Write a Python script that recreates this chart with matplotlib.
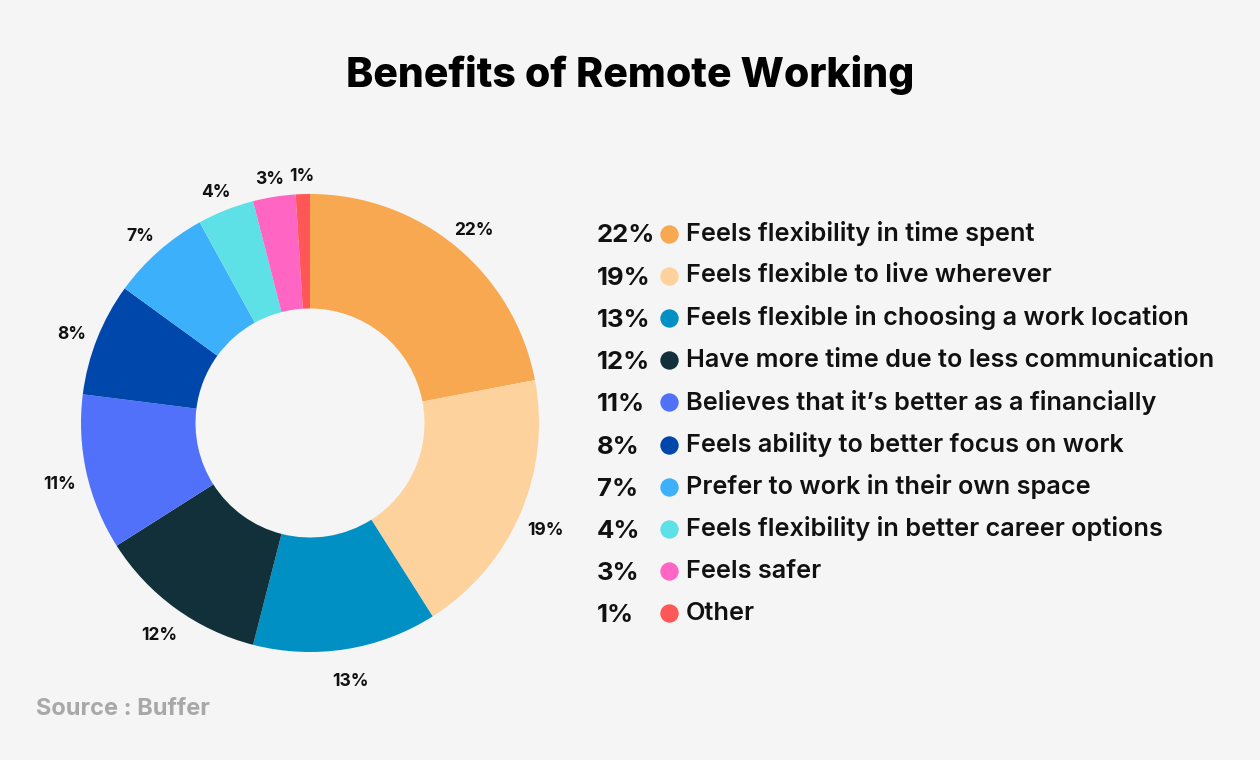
import matplotlib
matplotlib.use("Agg")
import matplotlib.pyplot as plt

categories = [
    "Feels flexibility in time spent",
    "Feels flexible to live wherever",
    "Feels flexible in choosing a work location",
    "Have more time due to less communication",
    "Believes that it\u2019s better as a financially",
    "Feels ability to better focus on work",
    "Prefer to work in their own space",
    "Feels flexibility in better career options",
    "Feels safer",
    "Other",
]
values = [22, 19, 13, 12, 11, 8, 7, 4, 3, 1]
colors = ["#F7A851", "#FDD29C", "#0090C4", "#12303A", "#5271FB",
          "#0047AB", "#3DB0FC", "#5EE1E6", "#FF66C4", "#FF5757"]

W, H = 1260, 760
BG = "#F5F5F5"
plt.rcParams['font.family'] = ['Inter', 'DejaVu Sans']

fig = plt.figure(figsize=(W / 100, H / 100), dpi=100, facecolor=BG)

cx, cy, R = 310, 423, 229
ax = fig.add_axes([(cx - R) / W, (H - cy - R) / H, 2 * R / W, 2 * R / H])
ax.set_facecolor(BG)
wedges, texts = ax.pie(values, colors=colors, startangle=90, counterclock=False,
                       radius=1.0, labels=[f"{v}%" for v in values],
                       labeldistance=1.12,
                       wedgeprops=dict(width=0.5, linewidth=0),
                       textprops=dict(fontsize=12.5, fontweight='bold', color='#111111'))
for t in texts:
    t.set_ha('center')
    t.set_va('center')
    x, y = t.get_position()
    # small downward nudge, stronger near the top of the ring
    t.set_position((x, y - 0.024 - 0.02 * max(0.0, y - 0.9) / 0.22))
ax.set_xlim(-1, 1)
ax.set_ylim(-1, 1)
ax.set_aspect('equal')
ax.axis('off')

fig.text(630 / W, 1 - 75 / H, "Benefits of Remote Working", ha='center', va='center',
         fontsize=29.5, fontweight='heavy', color='#000000')
fig.text(36 / W, 1 - 709 / H, "Source : Buffer", ha='left', va='center',
         fontsize=17, fontweight='bold', color='#A8A8A8')

# legend overlay
lax = fig.add_axes([0, 0, 1, 1], facecolor='none')
lax.set_xlim(0, W)
lax.set_ylim(H, 0)
lax.axis('off')
y0, dy = 233.5, 42.2
for i, (cat, v, c) in enumerate(zip(categories, values, colors)):
    y = y0 + i * dy
    lax.text(597, y + 2.5, f"{v}%", ha='left', va='center', fontsize=18.5,
             fontweight='bold', color='#111111')
    lax.scatter([669], [y], s=175, color=c, linewidths=0, zorder=3)
    lax.text(686, y, cat, ha='left', va='center', fontsize=18.2,
             fontweight='semibold', color='#111111')

fig.savefig("out.png", dpi=100, facecolor=BG)
